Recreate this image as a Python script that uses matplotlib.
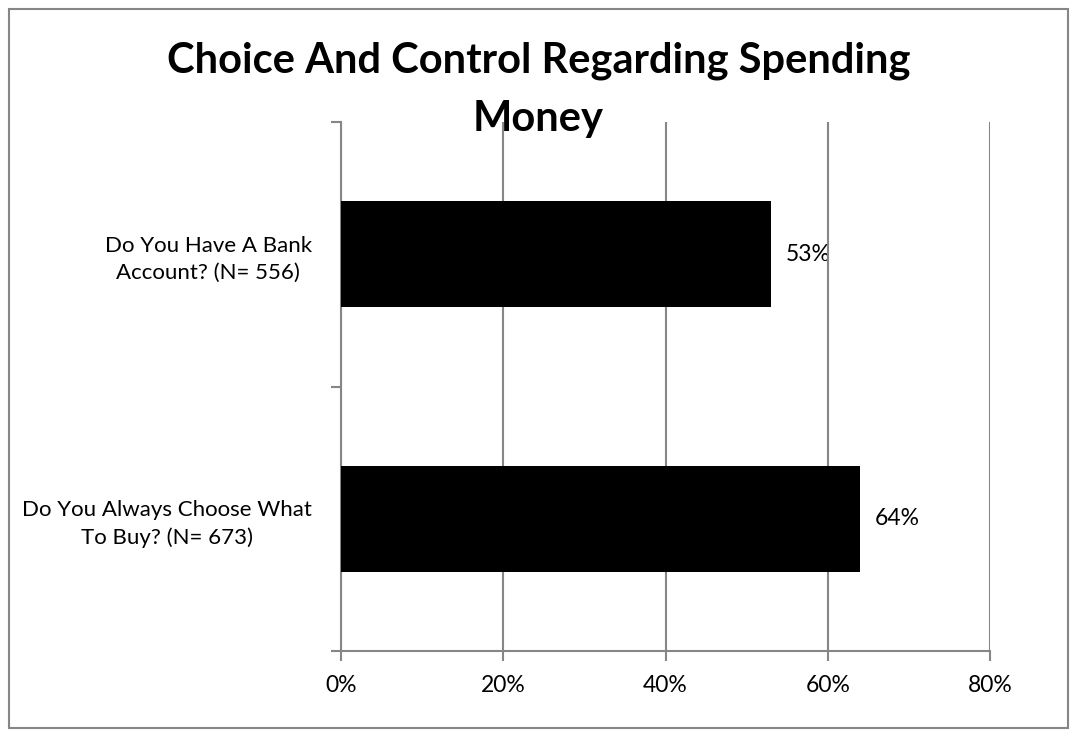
import matplotlib
matplotlib.use("Agg")
import matplotlib.pyplot as plt
from matplotlib.patches import Rectangle
from matplotlib.ticker import PercentFormatter

# data (bottom to top)
categories = ["Do You Always Choose What\nTo Buy? (N= 673)",
              "Do You Have A Bank\nAccount? (N= 556)"]
values = [64, 53]
x_ticks = [0, 20, 40, 60, 80]
title_lines = ["Choice And Control Regarding Spending", "Money"]

plt.rcParams['font.family'] = ['Lato', 'DejaVu Sans']
grid_col = '#868686'
W, H = 1077, 736

fig = plt.figure(figsize=(W / 100, H / 100), dpi=100)
ax = fig.add_axes([341 / W, 1 - 651 / H, 649 / W, 529 / H])

# outer chart border
fig.patches.append(Rectangle((8.5 / W, 8.5 / H), 1059 / W, 719 / H,
                             transform=fig.transFigure, fill=False,
                             edgecolor=grid_col, linewidth=1.5))

ypos = list(range(len(categories)))
ax.barh(ypos, values, height=0.4, color='black', zorder=3)
for y, v in zip(ypos, values):
    ax.text(v + 1.8, y, f"{v}%", va='center', ha='left', fontsize=16.5,
            zorder=1)

ax.set_xlim(0, 80)
ax.set_ylim(-0.5, len(categories) - 0.5)
ax.set_xticks(x_ticks)
ax.xaxis.set_major_formatter(PercentFormatter(decimals=0))
ax.grid(axis='x', color=grid_col, linewidth=1.5, zorder=2)
ax.set_axisbelow(False)

ax.set_yticks([-0.5, 0.5, 1.5])
ax.set_yticklabels([])
ax.set_yticks(ypos, minor=True)
ax.set_yticklabels(categories, minor=True, fontsize=16, ha='right',
                   multialignment='center', linespacing=1.4)
ax.tick_params(axis='y', which='minor', length=0, pad=21)
ax.tick_params(axis='y', which='major', length=7, width=1.5, color=grid_col)
ax.tick_params(axis='x', length=7, width=1.5, color=grid_col, labelsize=16.5,
               pad=10)

for side in ['top', 'right']:
    ax.spines[side].set_visible(False)
for side in ['left', 'bottom']:
    ax.spines[side].set_color(grid_col)
    ax.spines[side].set_linewidth(1.5)

# title, two lines placed at their baselines
for line, base in zip(title_lines, [73, 131]):
    fig.text(0.5, 1 - base / H, line, ha='center', va='baseline',
             fontsize=30, fontweight='bold')

fig.savefig("out.png", dpi=100)
